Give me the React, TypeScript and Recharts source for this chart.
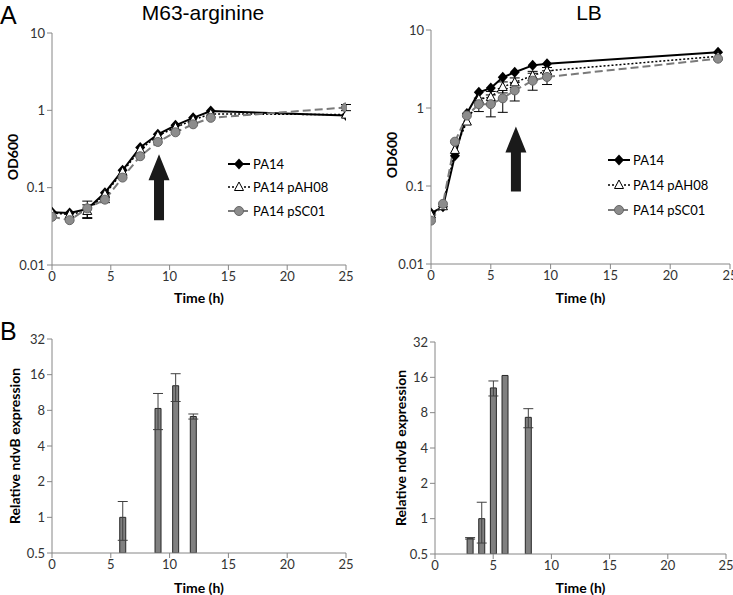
import React from 'react';
import { LineChart, Line, BarChart, Bar, XAxis, YAxis, ErrorBar, ReferenceLine } from 'recharts';

const FONT = 'Lato, "Open Sans", sans-serif';
const AXIS = '#868686';
const TICK_TEXT = '#333';

// growth curves, M63-arginine
const m63Time = [0, 1.5, 3, 4.5, 6, 7.5, 9, 10.5, 12, 13.5, 25];
const m63PA14 = [0.048, 0.047, 0.053, 0.086, 0.168, 0.33, 0.49, 0.64, 0.8, 0.98, 0.86];
const m63pAH08 = [0.047, 0.045, 0.05, 0.082, 0.16, 0.31, 0.47, 0.6, 0.75, 0.9, 0.88];
const m63pAH08Err = [null, null, 0.01, null, null, null, null, null, null, null, null];
const m63pSC01 = [0.042, 0.038, 0.054, 0.07, 0.135, 0.255, 0.39, 0.52, 0.66, 0.8, 1.09];
const m63pSC01Err = [null, null, 0.013, 0.006, null, null, null, null, null, null, 0.1];

// growth curves, LB
const lbTime = [0, 1, 2, 3, 4, 5, 6, 7, 8.5, 9.7, 24];
const lbPA14 = [0.045, 0.054, 0.245, 0.85, 1.59, 1.8, 2.47, 2.87, 3.52, 3.7, 5.17];
const lbpAH08 = [0.043, 0.055, 0.29, 0.67, 1.3, 1.38, 1.86, 2.13, 2.6, 3.0, 4.6];
const lbpAH08Err = [null, null, null, null, null, 0.25, 0.3, 0.3, 0.35, 0.3, null];
const lbpSC01 = [0.036, 0.059, 0.37, 0.8, 1.12, 1.12, 1.33, 1.68, 2.24, 2.5, 4.29];
const lbpSC01Err = [null, null, null, null, 0.22, 0.35, 0.45, 0.45, 0.55, 0.5, null];

// arrows (time, tip OD, tail OD)
const m63Arrow = { t: 9.1, tip: 0.27, tail: 0.038 };
const lbArrow = { t: 7.1, tip: 0.58, tail: 0.085 };

// relative ndvB expression
const m63BarTime = [6, 9, 10.5, 12];
const m63BarValue = [1.0, 8.3, 12.9, 7.1];
const m63BarErr = [0.36, 2.8, 3.4, 0.35];
const lbBarTime = [3, 4, 5, 6, 8];
const lbBarValue = [0.68, 1.0, 13.0, 16.6, 7.3];
const lbBarErr = [0.01, 0.38, 1.9, null, 1.35];

const timeTicks = [0, 5, 10, 15, 20, 25];
const odTicks = [0.01, 0.1, 1, 10];
const exprTicks = [0.5, 1, 2, 4, 8, 16, 32];

const seriesNames = ['PA14', 'PA14 pAH08', 'PA14 pSC01'];

const Diamond = (p: any) => {
  const { cx, cy } = p;
  if (cx == null || cy == null) return <g key={p.key} />;
  return <polygon key={p.key} points={`${cx},${cy - 5.5} ${cx + 5},${cy} ${cx},${cy + 5.5} ${cx - 5},${cy}`} fill="#000" />;
};
const Triangle = (p: any) => {
  const { cx, cy } = p;
  if (cx == null || cy == null) return <g key={p.key} />;
  return <polygon key={p.key} points={`${cx},${cy - 5} ${cx + 4.5},${cy + 3.5} ${cx - 4.5},${cy + 3.5}`} fill="#fff" stroke="#000" strokeWidth={1} />;
};
const Circle = (p: any) => {
  const { cx, cy } = p;
  if (cx == null || cy == null) return <g key={p.key} />;
  return <circle key={p.key} cx={cx} cy={cy} r={4.5} fill="#8c8c8c" stroke="#666" strokeWidth={1} />;
};

const lineStyles = [
  { stroke: '#000', width: 2, dash: undefined as string | undefined, Dot: Diamond },
  { stroke: '#000', width: 1.5, dash: '2 2', Dot: Triangle },
  { stroke: '#7a7a7a', width: 2, dash: '8 4', Dot: Circle },
];

function GrowthLegend({ left, top, rowHeight }: { left: number; top: number; rowHeight: number }) {
  return (
    <div style={{ position: 'absolute', left, top, fontFamily: FONT, fontSize: 13, color: '#000', whiteSpace: 'nowrap' }}>
      {seriesNames.map((name, i) => {
        const s = lineStyles[i];
        return (
          <div key={name} style={{ display: 'flex', alignItems: 'center', height: rowHeight }}>
            <svg width={23} height={14}>
              <line x1={0} y1={7} x2={22} y2={7} stroke={s.stroke} strokeWidth={s.width} strokeDasharray={s.dash} />
              <s.Dot cx={11} cy={7} />
            </svg>
            <span style={{ marginLeft: 2 }}>{name}</span>
          </div>
        );
      })}
    </div>
  );
}

const arrowShape = (props: any) => {
  const { x1, y1, x2, y2 } = props;
  const x = (x1 + x2) / 2;
  const top = Math.min(y1, y2);
  const bottom = Math.max(y1, y2);
  const head = 26;
  const pts = [
    [x, top], [x + 10.5, top + head], [x + 5, top + head], [x + 5, bottom],
    [x - 5, bottom], [x - 5, top + head], [x - 10.5, top + head],
  ].map(p => p.join(',')).join(' ');
  return <polygon points={pts} fill="#1a1a1a" />;
};

const yLabel = (text: string, x: number, shift: number) => (props: any) => {
  const vb = props.viewBox;
  const cy = vb.y + vb.height / 2 + shift;
  return (
    <text x={x} y={cy} transform={`rotate(-90 ${x} ${cy})`} textAnchor="middle" dominantBaseline="central"
      fontFamily={FONT} fontSize={14} fontWeight="bold" fill="#000">{text}</text>
  );
};

const tickStyle = { fill: TICK_TEXT, fontSize: 13, fontFamily: FONT };
const xLabel = { value: 'Time (h)', position: 'insideBottom' as const, offset: 2, style: { fontFamily: FONT, fontSize: 14, fontWeight: 'bold', fill: '#000' } };

interface GrowthProps {
  time: number[];
  series: number[][];
  errors: (number | null)[][];
  arrow: { t: number; tip: number; tail: number };
  width: number;
  margin: any;
  yAxisWidth: number;
  xAxisHeight: number;
  labelX: number;
}

function GrowthChart({ time, series, errors, arrow, width, margin, yAxisWidth, xAxisHeight, labelX }: GrowthProps) {
  const rows = time.map((t, i) => {
    const r: any = { t };
    series.forEach((s, k) => {
      r['s' + k] = s[i];
      r['e' + k] = errors[k][i];
    });
    return r;
  });
  return (
    <LineChart width={width} height={305} data={rows} margin={margin}>
      <XAxis dataKey="t" type="number" domain={[0, 25]} ticks={timeTicks} interval={0} stroke={AXIS}
        tickSize={5} tick={tickStyle} height={xAxisHeight} label={xLabel} allowDataOverflow />
      <YAxis type="number" scale="log" domain={[0.01, 10]} ticks={odTicks} interval={0} stroke={AXIS}
        tickSize={5} tick={tickStyle} width={yAxisWidth} allowDataOverflow
        tickFormatter={(v: number) => String(v)} label={{ content: yLabel('OD600', labelX, 8) }} />
      <ReferenceLine segment={[{ x: arrow.t, y: arrow.tail }, { x: arrow.t, y: arrow.tip }]}
        shape={arrowShape} ifOverflow="visible" />
      {series.map((_, k) => {
        const s = lineStyles[k];
        return (
          <Line key={k} dataKey={'s' + k} name={seriesNames[k]} stroke={s.stroke} strokeWidth={s.width}
            strokeDasharray={s.dash} dot={s.Dot} activeDot={false} isAnimationActive={false}>
            <ErrorBar dataKey={'e' + k} width={5} stroke="#000" strokeWidth={1} direction="y" />
          </Line>
        );
      })}
    </LineChart>
  );
}

interface ExprProps {
  time: number[];
  values: number[];
  errors: (number | null)[];
  width: number;
  margin: any;
  yAxisWidth: number;
  xAxisHeight: number;
  labelX: number;
}

function ExpressionChart({ time, values, errors, width, margin, yAxisWidth, xAxisHeight, labelX }: ExprProps) {
  const rows = time.map((t, i) => ({ t, v: values[i], e: errors[i] }));
  return (
    <BarChart width={width} height={295} data={rows} margin={margin} barSize={6}>
      <XAxis dataKey="t" type="number" domain={[0, 25]} ticks={timeTicks} interval={0} stroke={AXIS}
        tickSize={5} tick={tickStyle} height={xAxisHeight} label={xLabel} allowDataOverflow />
      <YAxis type="number" scale="log" domain={[0.5, 32]} ticks={exprTicks} interval={0} stroke={AXIS}
        tickSize={5} tick={tickStyle} width={yAxisWidth} allowDataOverflow
        tickFormatter={(v: number) => String(v)} label={{ content: yLabel('Relative ndvB expression', labelX, 0) }} />
      <Bar dataKey="v" fill="#808080" stroke="#262626" strokeWidth={1} isAnimationActive={false}>
        <ErrorBar dataKey="e" width={5} stroke="#404040" strokeWidth={1} direction="y" />
      </Bar>
    </BarChart>
  );
}

const abs = (left: number, top: number): React.CSSProperties => ({ position: 'absolute', left, top });

export default function App() {
  return (
    <div style={{ position: 'absolute', left: 0, top: 0, width: 733, height: 595, background: '#fff', overflow: 'hidden' }}>
      <div style={{ ...abs(0, 0), fontFamily: '"Liberation Sans", Arial, sans-serif', fontSize: 25, lineHeight: '30px' }}>A</div>
      <div style={{ ...abs(0, 316), fontFamily: '"Liberation Sans", Arial, sans-serif', fontSize: 25, lineHeight: '30px' }}>B</div>
      <div style={{ ...abs(103, 0), width: 200, textAlign: 'center', fontFamily: '"Liberation Sans", Arial, sans-serif', fontSize: 21, lineHeight: '26px' }}>M63-arginine</div>
      <div style={{ ...abs(489, 0), width: 200, textAlign: 'center', fontFamily: '"Liberation Sans", Arial, sans-serif', fontSize: 21, lineHeight: '26px' }}>LB</div>

      <div style={abs(0, 0)}>
        <GrowthChart time={m63Time} series={[m63PA14, m63pAH08, m63pSC01]} errors={[m63Time.map(() => null), m63pAH08Err, m63pSC01Err]}
          arrow={m63Arrow} width={360} margin={{ top: 33, right: 14, left: 0, bottom: 0 }} yAxisWidth={52} xAxisHeight={40}
          labelX={12} />
      </div>
      <GrowthLegend left={228} top={152} rowHeight={23.5} />
      <div style={abs(363, 0)}>
        <GrowthChart time={lbTime} series={[lbPA14, lbpAH08, lbpSC01]} errors={[lbTime.map(() => null), lbpAH08Err, lbpSC01Err]}
          arrow={lbArrow} width={370} margin={{ top: 30, right: 3, left: 0, bottom: 0 }} yAxisWidth={68} xAxisHeight={41}
          labelX={28} />
      </div>
      <GrowthLegend left={608} top={147.5} rowHeight={25} />
      <div style={abs(0, 300)}>
        <ExpressionChart time={m63BarTime} values={m63BarValue} errors={m63BarErr} width={360}
          margin={{ top: 39, right: 14, left: 0, bottom: 0 }} yAxisWidth={52} xAxisHeight={42} labelX={14} />
      </div>
      <div style={abs(363, 300)}>
        <ExpressionChart time={lbBarTime} values={lbBarValue} errors={lbBarErr} width={370}
          margin={{ top: 42, right: 7, left: 0, bottom: 0 }} yAxisWidth={72} xAxisHeight={41} labelX={37} />
      </div>
    </div>
  );
}
